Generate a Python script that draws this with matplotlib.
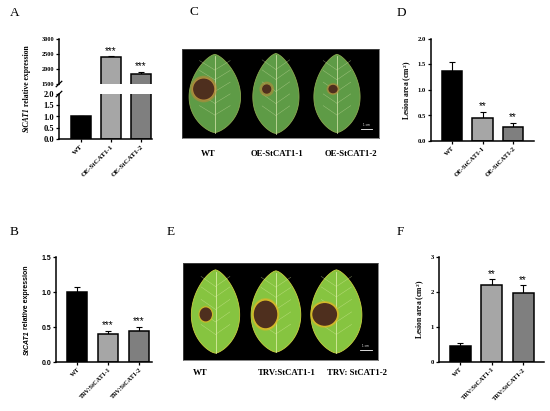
"""Six-panel figure: StCAT1 expression, leaf photos, lesion areas"""

import matplotlib
matplotlib.use("Agg")
import matplotlib.pyplot as plt
import numpy as np
from matplotlib.patches import Polygon, Ellipse

plt.rcParams["mathtext.fontset"] = "custom"
plt.rcParams["mathtext.rm"] = "Liberation Serif:bold"
plt.rcParams["mathtext.bf"] = "Liberation Serif:bold"
plt.rcParams["mathtext.it"] = "Liberation Serif:italic:bold"

# ---- data ----
oe_labels = ["WT", "OE-StCAT1-1", "OE-StCAT1-2"]
trv_labels = ["WT", "TRV:StCAT1-1", "TRV:StCAT1-2"]
photo_e_labels = ["WT", "TRV:StCAT1-1", "TRV: StCAT1-2"]

a_values = [1.0, 2410, 1830]
a_errors = [0.03, 20, 75]
a_stars = ["", "***", "***"]

b_values = [1.0, 0.40, 0.44]
b_errors = [0.07, 0.04, 0.065]
b_stars = ["", "***", "***"]

d_values = [1.37, 0.46, 0.27]
d_errors = [0.18, 0.11, 0.09]
d_stars = ["", "**", "**"]

f_values = [0.45, 2.21, 1.97]
f_errors = [0.08, 0.15, 0.22]
f_stars = ["", "**", "**"]

bar_colors = ["#000000", "#a6a6a6", "#7f7f7f"]

W, H = 550, 411
fig = plt.figure(figsize=(5.5, 4.11), dpi=100)
fig.patch.set_facecolor("white")

SERIF = "Liberation Serif"
SANS = "Liberation Sans"


def px_axes(x0, y0, x1, y1):
    """axes from pixel box (top-left origin)"""
    return fig.add_axes([x0 / W, 1 - y1 / H, (x1 - x0) / W, (y1 - y0) / H])


def style(ax, family, tick_size=5.5):
    for s in ["top", "right"]:
        ax.spines[s].set_visible(False)
    for s in ["left", "bottom"]:
        ax.spines[s].set_linewidth(1.1)
    ax.tick_params(axis="both", width=0.9, length=2.5, pad=1,
                   labelsize=tick_size)
    for lab in ax.get_yticklabels():
        lab.set_family(family)
        lab.set_weight("bold")


def bars(ax, values, errors):
    x = np.arange(len(values))
    ax.bar(x, values, width=0.66, color=bar_colors, edgecolor="black",
           linewidth=1.1, zorder=2)
    ax.errorbar(x, values, yerr=[np.zeros(len(values)), errors], fmt="none",
                ecolor="black", elinewidth=0.8, capsize=2.5, capthick=0.8,
                zorder=1)


def xlabels(ax, labels, family, size=5.0):
    ax.set_xticks(range(len(labels)))
    ax.set_xticklabels(labels, rotation=45, ha="right",
                       rotation_mode="anchor", family=family,
                       weight="bold", fontsize=size)


def put_stars(ax, values, errors, stars, gap):
    for i, s in enumerate(stars):
        if s:
            ax.text(i, values[i] + errors[i] + gap, s, ha="center",
                    va="bottom", fontsize=7, family=SANS)


def vlabel(xp, yp, parts, family, size, gap=1.5):
    """rotated label built from (text, style) pieces, centred at pixel xp, yp"""
    r = fig.canvas.get_renderer()
    texts = [fig.text(0, 0, t, rotation=90, fontsize=size, family=family,
                      weight="bold", style=st, ha="center", va="bottom")
             for t, st in parts]
    heights = [t.get_window_extent(r).height for t in texts]
    y = (H - yp) - (sum(heights) + gap * (len(texts) - 1)) / 2
    for t, h in zip(texts, heights):
        t.set_position((xp / W, y / H))
        y += h + gap


# ---- panel A (broken axis) ----
axA_lo = px_axes(59, 94, 152, 139)
axA_hi = px_axes(59, 39, 152, 84)
for ax in (axA_lo, axA_hi):
    bars(ax, a_values, a_errors)
    ax.set_xlim(-0.72, 2.38)
axA_lo.set_ylim(0, 2.0)
axA_lo.set_yticks([0.0, 0.5, 1.0, 1.5, 2.0])
axA_lo.set_yticklabels(["0.0", "0.5", "1.0", "1.5", "2.0"])
axA_hi.set_ylim(1500, 3000)
axA_hi.set_yticks([1500, 2000, 2500, 3000])
style(axA_lo, SERIF, 6)
style(axA_hi, SERIF, 4.5)
axA_hi.spines["bottom"].set_visible(False)
axA_hi.tick_params(axis="x", bottom=False, labelbottom=False)
xlabels(axA_lo, oe_labels, SERIF)
put_stars(axA_hi, a_values, a_errors, a_stars, 15)
for ax, yy in ((axA_hi, 0.0), (axA_lo, 1.0)):
    ax.plot([-0.03, 0.03], [yy - 0.06, yy + 0.06], transform=ax.transAxes,
            color="black", lw=0.9, clip_on=False)
vlabel(27, 89, [("StCAT1", "italic"), ("relative expression", "normal")],
       SERIF, 5.5)

# ---- panel B ----
axB = px_axes(56, 257, 152, 362)
bars(axB, b_values, b_errors)
axB.set_xlim(-0.68, 2.42)
axB.set_ylim(0, 1.5)
axB.set_yticks([0.0, 0.5, 1.0, 1.5])
style(axB, SANS, 5)
xlabels(axB, trv_labels, SERIF, 4.6)
put_stars(axB, b_values, b_errors, b_stars, 0.01)
vlabel(27, 310, [("StCAT1", "italic"), ("relative expression", "normal")],
       SANS, 5.0)

# ---- panel D ----
axD = px_axes(431, 39, 534, 141)
bars(axD, d_values, d_errors)
axD.set_xlim(-0.69, 2.69)
axD.set_ylim(0, 2.0)
axD.set_yticks([0.0, 0.5, 1.0, 1.5, 2.0])
style(axD, SERIF, 4.8)
xlabels(axD, oe_labels, SERIF, 4.8)
put_stars(axD, d_values, d_errors, d_stars, 0.01)
axD.set_ylabel("Lesion area (cm$^{2}$)", family=SERIF, weight="bold",
               fontsize=5.5, labelpad=3)

# ---- panel F ----
axF = px_axes(439, 257, 544, 362)
bars(axF, f_values, f_errors)
axF.set_xlim(-0.67, 2.66)
axF.set_ylim(0, 3)
axF.set_yticks([0, 1, 2, 3])
style(axF, SERIF, 4.8)
xlabels(axF, trv_labels, SERIF, 4.8)
put_stars(axF, f_values, f_errors, f_stars, 0.02)
axF.set_ylabel("Lesion area (cm$^{2}$)", family=SERIF, weight="bold",
               fontsize=5.5, labelpad=3)


# ---- leaf photo panels (drawn illustration) ----
def leaf(ax, cx, cy, w, h, color, vein, edge, lesion, halo):
    yy = np.linspace(-1, 1, 120)
    hw = (1 - yy ** 2) ** 0.7 * (1 - 0.12 * yy)
    pts = np.r_[np.c_[cx + w / 2 * hw, cy + h / 2 * yy],
                np.c_[cx - w / 2 * hw[::-1], cy + h / 2 * yy[::-1]]]
    ax.add_patch(Polygon(pts, closed=True, facecolor=color, edgecolor=edge,
                         lw=0.6, zorder=1))
    ax.plot([cx, cx], [cy - h / 2, cy + h / 2 * 0.95], color=vein,
            lw=0.6, zorder=2)
    for f in (-0.55, -0.25, 0.05, 0.35, 0.6):
        for sgn in (-1, 1):
            ax.plot([cx, cx + sgn * w * 0.3], [cy + f * h / 2,
                    cy + f * h / 2 + h * 0.12], color=vein, lw=0.35,
                    alpha=0.6, zorder=2)
    lx, ly, lw_, lh, hs = lesion
    ax.add_patch(Ellipse((lx, ly), lw_ * hs, lh * hs, color=halo,
                         alpha=0.45, zorder=3))
    ax.add_patch(Ellipse((lx, ly), lw_ * 1.12, lh * 1.12, color=halo,
                         alpha=0.85, zorder=3))
    ax.add_patch(Ellipse((lx, ly), lw_, lh, color="#4e2f1e", zorder=4))


def photo(box, leaves, color, vein, edge, halo):
    ax = px_axes(*box)
    ax.set_facecolor("black")
    ax.set_xlim(0, 3)
    ax.set_ylim(0, 1)
    ax.set_xticks([])
    ax.set_yticks([])
    for s in ax.spines.values():
        s.set_color("#555555")
        s.set_linewidth(0.5)
    for i, (w, h, les) in enumerate(leaves):
        cx = 0.5 + i * 0.93
        leaf(ax, cx, 0.5, w, h, color, vein, edge,
             (cx + les[0], 0.5 + les[1], les[2], les[3], les[4]), halo)
    ax.plot([2.72, 2.9], [0.1, 0.1], color="white", lw=0.6)
    ax.text(2.81, 0.12, "1 cm", color="white", fontsize=2, ha="center",
            va="bottom")
    return ax


# (width, height, (dx, dy, lesion w, lesion h, halo scale))
c_leaves = [(0.78, 0.88, (-0.17, 0.05, 0.3, 0.22, 1.3)),
            (0.7, 0.9, (-0.14, 0.05, 0.12, 0.09, 1.7)),
            (0.7, 0.88, (-0.06, 0.05, 0.12, 0.08, 1.5))]
e_leaves = [(0.74, 0.86, (-0.15, -0.03, 0.17, 0.13, 1.25)),
            (0.76, 0.84, (-0.16, -0.03, 0.34, 0.27, 1.2)),
            (0.78, 0.86, (-0.18, -0.03, 0.36, 0.22, 1.2))]
photo((182, 49, 379, 138), c_leaves, "#5e9b46", "#c8dca0", "#8aa850",
      "#b88a3a")
photo((183, 263, 378, 360), e_leaves, "#86c440", "#d8eca0", "#c8d040",
      "#d8b828")

for lab, xp in zip(oe_labels, [208, 277, 351]):
    fig.text(xp / W, 1 - 154 / H, lab, ha="center", va="center",
             fontsize=6.3, family=SERIF, weight="bold")
for lab, xp in zip(photo_e_labels, [200, 287, 357]):
    fig.text(xp / W, 1 - 373 / H, lab, ha="center", va="center",
             fontsize=6.3, family=SERIF, weight="bold")

# ---- panel letters ----
for lab, xp, yp in [("A", 10, 13), ("B", 10, 232), ("C", 189, 12),
                    ("D", 397, 13), ("E", 167, 232), ("F", 397, 232)]:
    fig.text(xp / W, 1 - yp / H, lab, ha="left", va="center",
             fontsize=9.5, family=SERIF)

fig.savefig("out.png", dpi=100)
